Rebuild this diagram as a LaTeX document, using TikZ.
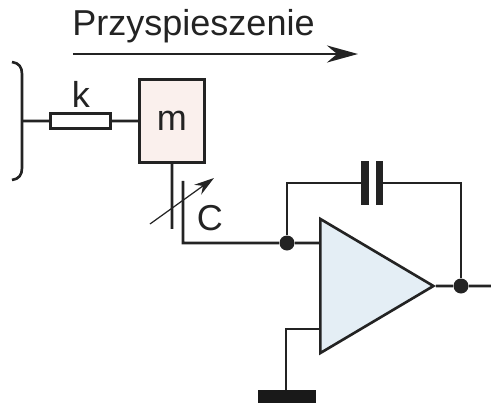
\documentclass[tikz,border=0pt]{standalone}
\usepackage{fontspec}
\setmainfont{Liberation Sans}
\usepackage{tikz}
\usetikzlibrary{arrows.meta,shapes.geometric}
\definecolor{massfill}{RGB}{250,240,237}
\definecolor{ampfill}{RGB}{228,238,245}
\definecolor{ink}{RGB}{35,35,35}

\begin{document}
\begin{tikzpicture}[scale=0.2]
\tikzset{every node/.style={inner sep=0pt,font=\fontsize{20.5}{24}\selectfont,text=ink}}
\tikzset{wire/.style={draw=ink,line width=1.5pt}}
\tikzset{dot/.style={circle,fill=ink,minimum size=0.3cm}}
\useasboundingbox (0,0) rectangle (49.1,-40.3);
% text and acceleration arrow
\node (title) [anchor=base west] at (7.2,-3.5) {Przyspieszenie};
\coordinate (accfrom) at (7.3,-5.4);
\coordinate (accto) at (35.8,-5.4);
\draw [ink,line width=1.5pt,-{Stealth[length=0.62cm,width=0.34cm]}] (accfrom) -- (accto);
% wall, spring and mass
\coordinate (walltop) at (1.2,-6.2);
\coordinate (wallbot) at (1.2,-18);
\coordinate (wallmid) at (2.2,-12.1);
\draw [wire] (walltop) .. controls (1.9,-6.3) and (2.2,-6.7) .. (2.2,-7.4) -- (2.2,-16.8) .. controls (2.2,-17.5) and (1.9,-17.9) .. (wallbot);
\node (spring) [draw=ink,line width=1.5pt,fill=white,minimum width=1.2cm,minimum height=0.3cm] at (8.05,-12.1) {};
\node (mass) [draw=ink,line width=1.5pt,fill=massfill,minimum width=1.3cm,minimum height=1.66cm] at (17.2,-12.1) {m};
\node (klabel) at (8.1,-9.4) {k};
\draw [wire] (wallmid) -- (spring);
\draw [wire] (spring) -- (mass);
% variable capacitor
\coordinate (platea) at (17.2,-22.9);
\coordinate (plateb) at (18.3,-18.1);
\coordinate (corner) at (18.3,-24.3);
\coordinate (varfrom) at (15,-22.4);
\coordinate (varto) at (21.4,-17.8);
\node (clabel) at (21,-21.8) {C};
\draw [wire] (mass) -- (platea);
\draw [ink,line width=0.7pt,-{Stealth[length=0.4cm,width=0.24cm]}] (varfrom) -- (varto);
% amplifier
\node (amp) [isosceles triangle,isosceles triangle apex angle=61.3,isosceles triangle stretches,draw=ink,line width=1.5pt,fill=ampfill,minimum height=2.26cm,minimum width=2.68cm,anchor=apex] at (43.6,-28.6) {};
\node (inv) [dot] at (28.7,-24.3) {};
\node (out) [dot] at (46.1,-28.6) {};
\coordinate (end) at (49.1,-28.6);
\coordinate (amptop) at (32.1,-24.3);
\coordinate (ampbot) at (32.1,-32.9);
\coordinate (gndup) at (28.6,-32.9);
\node (gnd) [fill=black!90,minimum width=1.16cm,minimum height=0.26cm] at (28.7,-39.65) {};
\node (plateleft) [fill=ink,minimum width=0.16cm,minimum height=0.88cm] at (36.5,-18.3) {};
\node (plateright) [fill=ink,minimum width=0.14cm,minimum height=0.88cm] at (37.95,-18.3) {};
\draw [wire] (plateb) -- (corner) -- (inv) -- (amptop);
\draw [wire] (inv) |- (plateleft);
\draw [wire] (plateright) -| (out);
\draw [wire] (amp.apex) -- (out) -- (end);
\draw [wire] (ampbot) -- (gndup) -- (gndup |- gnd.north);
\end{tikzpicture}
\end{document}
